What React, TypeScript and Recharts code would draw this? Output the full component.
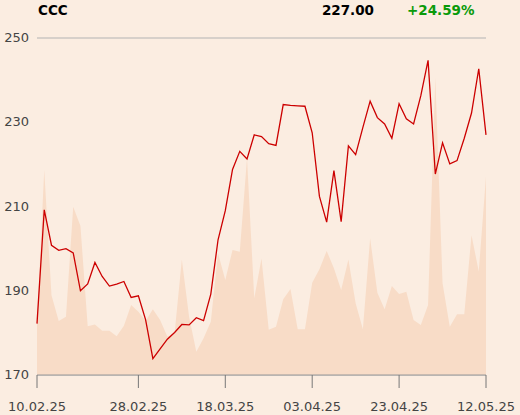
import React from 'react';
import { ComposedChart, Line, Area, XAxis, YAxis, CartesianGrid } from 'recharts';

const dates = [
  '10.02.25','11.02.25','12.02.25','13.02.25','14.02.25',
  '17.02.25','18.02.25','19.02.25','20.02.25','21.02.25',
  '24.02.25','25.02.25','26.02.25','27.02.25','28.02.25',
  '03.03.25','04.03.25','05.03.25','06.03.25','07.03.25',
  '10.03.25','11.03.25','12.03.25','13.03.25','14.03.25',
  '17.03.25','18.03.25','19.03.25','20.03.25','21.03.25',
  '24.03.25','25.03.25','26.03.25','27.03.25','28.03.25',
  '31.03.25','01.04.25','02.04.25','03.04.25','04.04.25',
  '07.04.25','08.04.25','09.04.25','10.04.25','11.04.25',
  '14.04.25','15.04.25','16.04.25','17.04.25',
  '22.04.25','23.04.25','24.04.25','25.04.25',
  '28.04.25','29.04.25','30.04.25',
  '02.05.25','05.05.25','06.05.25','07.05.25','08.05.25','09.05.25','12.05.25',
];

const prices = [
  182.2, 209.2, 200.8, 199.6, 200.0, 199.0, 190.0, 191.6, 196.7, 193.4,
  191.1, 191.6, 192.2, 188.4, 188.8, 183.1, 173.9, 176.2, 178.5, 180.1,
  182.0, 181.9, 183.6, 182.9, 189.2, 202.1, 209.0, 218.8, 223.1, 221.3,
  227.0, 226.6, 224.9, 224.5, 234.2, 234.0, 233.9, 233.8, 227.5, 212.4,
  206.3, 218.5, 206.4, 224.4, 222.3, 228.8, 235.0, 231.1, 229.6, 226.2,
  234.4, 230.8, 229.6, 236.3, 244.7, 217.7, 225.1, 220.1, 220.9, 226.2,
  232.2, 242.7, 227.0,
];

const volumes = [
  153, 608, 237, 160, 173, 499, 442, 145, 150, 131,
  131, 115, 146, 208, 188, 160, 195, 163, 114, 124,
  343, 173, 69, 109, 158, 361, 282, 371, 366, 643,
  228, 346, 134, 143, 225, 255, 136, 136, 274, 314,
  368, 317, 252, 343, 213, 136, 406, 244, 195, 264,
  240, 247, 163, 148, 208, 883, 272, 143, 180, 180,
  415, 307, 590,
];

const xTicks = ['10.02.25', '28.02.25', '18.03.25', '03.04.25', '23.04.25', '12.05.25'];
const yTicks = [170, 190, 210, 230, 250];

const ticker = 'CCC';
const lastPrice = '227.00';
const change = '+24.59%';

const data = dates.map((d, i) => ({ date: d, price: prices[i], volume: volumes[i] }));

const FONT = '"DejaVu Sans", sans-serif';

const XTick = (props: any) => {
  const { x, y, payload } = props;
  return (
    <text x={x} y={y + 21} textAnchor="middle" fontFamily={FONT} fontSize={13} fill="#444">
      {payload.value}
    </text>
  );
};

const YTick = (props: any) => {
  const { x, y, payload } = props;
  return (
    <text x={29} y={y + 4} textAnchor="end" fontFamily={FONT} fontSize={13} fill="#444">
      {payload.value}
    </text>
  );
};

export default function App() {
  return (
    <div style={{ position: 'absolute', left: 0, top: 0, width: 520, height: 415, background: '#FBEDE1' }}>
      <ComposedChart
        width={520}
        height={415}
        data={data}
        margin={{ top: 38, right: 34, left: 0, bottom: 0 }}
      >
        <CartesianGrid horizontal vertical={false} stroke="#b3b3b3" strokeWidth={1} />
        <XAxis
          dataKey="date"
          ticks={xTicks}
          interval={0}
          height={40}
          tickSize={13}
          tickLine={{ stroke: '#777' }}
          axisLine={{ stroke: '#999' }}
          tick={<XTick />}
          padding={{ left: 0, right: 0 }}
        />
        <YAxis
          yAxisId="price"
          domain={[170, 250]}
          ticks={yTicks}
          width={37}
          axisLine={false}
          tickLine={false}
          tick={<YTick />}
          allowDataOverflow
        />
        <YAxis yAxisId="vol" orientation="right" hide domain={[0, 1000]} />
        <Area
          yAxisId="vol"
          type="linear"
          dataKey="volume"
          stroke="none"
          fill="#F8DCC7"
          fillOpacity={1}
          isAnimationActive={false}
          dot={false}
          activeDot={false}
        />
        <Line
          yAxisId="price"
          type="linear"
          dataKey="price"
          stroke="#CC0000"
          strokeWidth={1.3}
          dot={false}
          activeDot={false}
          isAnimationActive={false}
        />
      </ComposedChart>
      <svg width={520} height={30} style={{ position: 'absolute', left: 0, top: 0, pointerEvents: 'none' }}>
        <text x={38} y={14.5} fontFamily={FONT} fontWeight="bold" fontSize={13.5} fill="#000">{ticker}</text>
        <text x={374} y={14.5} textAnchor="end" fontFamily={FONT} fontWeight="bold" fontSize={13.5} fill="#000">{lastPrice}</text>
        <text x={407} y={14.5} fontFamily={FONT} fontWeight="bold" fontSize={13.5} fill="#0A9A0A">{change}</text>
      </svg>
    </div>
  );
}
